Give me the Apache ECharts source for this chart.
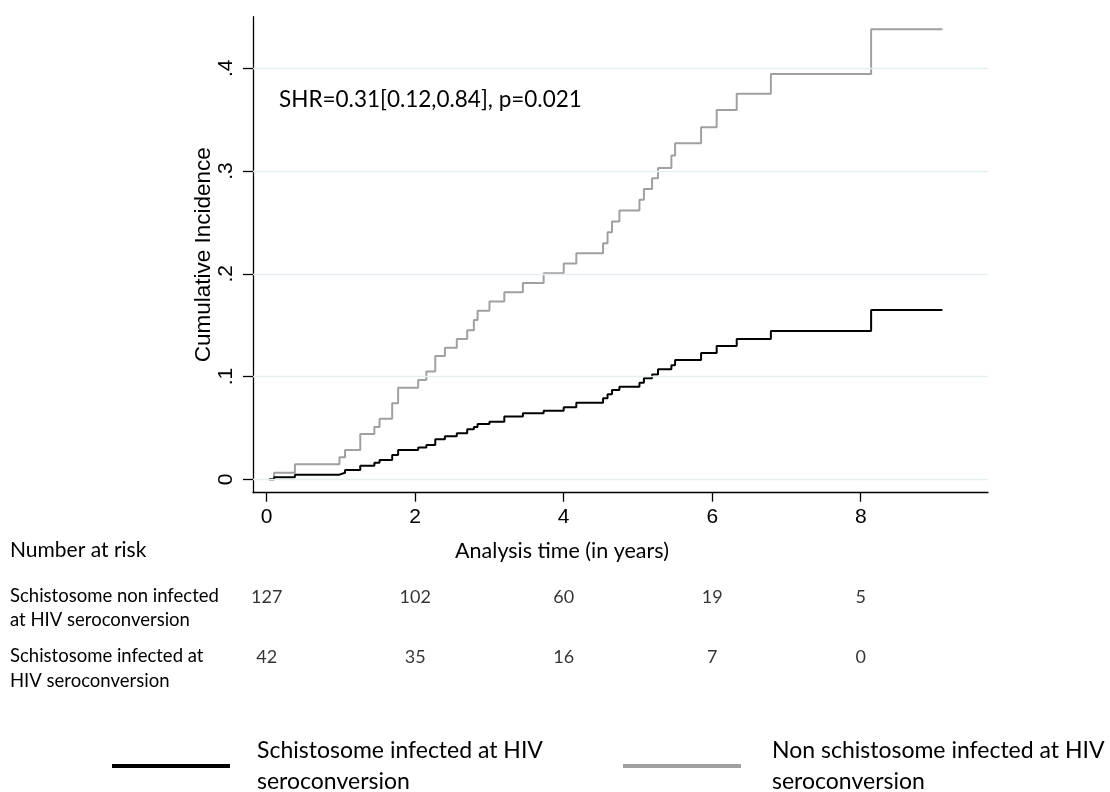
<!DOCTYPE html>
<html><head><meta charset="utf-8">
<script src="https://cdn.jsdelivr.net/npm/echarts@6/dist/echarts.min.js"></script>
<style>html,body{margin:0;padding:0;background:#fff}#c{width:1110px;height:792px}</style>
</head><body><div id="c"></div>
<script>
// Event times (years) shared by both predicted cumulative incidence curves
const times = [0.03,0.10,0.38,0.98,1.055,1.26,1.45,1.52,1.69,1.77,2.04,2.15,2.27,2.40,2.56,2.70,2.79,2.84,3.00,3.20,3.45,3.73,4.00,4.17,4.53,4.59,4.65,4.75,5.02,5.08,5.19,5.27,5.45,5.50,5.85,6.06,6.33,6.79,8.14];
const nonInfected = [0,0.0064,0.0146,0.0214,0.0285,0.044,0.051,0.059,0.074,0.089,0.0966,0.105,0.120,0.128,0.1365,0.145,0.155,0.164,0.173,0.182,0.191,0.2005,0.210,0.220,0.2297,0.2404,0.251,0.2617,0.272,0.2825,0.293,0.303,0.315,0.327,0.3426,0.3594,0.3753,0.3945,0.438];
const infected = [0,0.002,0.0045,0.0064,0.009,0.0133,0.016,0.0188,0.0237,0.0285,0.031,0.0334,0.039,0.042,0.0448,0.0487,0.051,0.0538,0.056,0.061,0.0642,0.0668,0.070,0.0745,0.0788,0.0827,0.0869,0.090,0.094,0.0983,0.102,0.107,0.111,0.116,0.123,0.1297,0.1365,0.1443,0.1648];
const endTime = 9.10;
const xTicks = [0,2,4,6,8];
const yTicks = [0,0.1,0.2,0.3,0.4];
const yTickLabels = ['0','.1','.2','.3','.4'];
const riskTimes = [0,2,4,6,8];
const riskNonInfected = [127,102,60,19,5];
const riskInfected = [42,35,16,7,0];
const nameInfected = 'Schistosome infected at HIV seroconversion';
const nameNonInfected = 'Non schistosome infected at HIV seroconversion';
const riskRows = ['Schistosome non infected\nat HIV seroconversion','Schistosome infected at\nHIV seroconversion'];

function steps(vals){
  const d = times.map((t,i)=>[t, vals[i]]);
  d.push([endTime, vals[vals.length-1]]);
  return d;
}
const riskData = [];
riskTimes.forEach((t,i)=>{ riskData.push([t,0,riskNonInfected[i]]); riskData.push([t,1,riskInfected[i]]); });

const TXT = 'Lato';
const X_MIN = -0.1845, X_MAX = 9.714, Y_MIN = -0.01304, Y_MAX = 0.4502;

const chart = echarts.init(document.getElementById('c'), null, {renderer:'canvas'});
chart.setOption({
  animation:false,
  backgroundColor:'#fff',
  grid:[
    {left:253, right:122, top:16.7, height:476},
    {left:253, right:122, top:566.7, height:120}
  ],
  xAxis:[
    {type:'value', gridIndex:0, min:X_MIN, max:X_MAX,
     axisLine:{show:true, onZero:false, lineStyle:{color:'#000', width:1.3}},
     axisTick:{show:true, length:9, customValues:xTicks, lineStyle:{color:'#000', width:1.3}},
     axisLabel:{customValues:xTicks, margin:14, color:'#000', fontFamily:'Liberation Sans', fontSize:21},
     splitLine:{show:false}
    },
    {type:'value', gridIndex:1, min:X_MIN, max:X_MAX, show:false}
  ],
  yAxis:[
    {type:'value', gridIndex:0, min:Y_MIN, max:Y_MAX,
     axisLine:{show:true, onZero:false, lineStyle:{color:'#000', width:1.3}},
     axisTick:{show:true, length:10, customValues:yTicks, lineStyle:{color:'#000', width:1.3}},
     axisLabel:{customValues:yTicks, rotate:90, margin:16, color:'#000', fontFamily:'Liberation Sans', fontSize:21,
       formatter:function(v){ const i = yTicks.findIndex(t=>Math.abs(t-v)<1e-9); return i>=0 ? yTickLabels[i] : ''; }},
     splitLine:{show:false},
     name:'Cumulative Incidence', nameLocation:'middle', nameRotate:90, nameGap:38, nameMoveOverlap:false,
     nameTextStyle:{color:'#000', fontFamily:'Liberation Sans', fontSize:22.5}
    },
    {type:'category', gridIndex:1, data:[0,1], inverse:true, show:false}
  ],
  legend:[
    {left:107, top:730, icon:'rect', itemWidth:118, itemHeight:4, data:[nameInfected],
     formatter:n=>n.replace(' seroconversion','\nseroconversion'),
     textStyle:{color:'#000', fontFamily:TXT, fontSize:23, lineHeight:31, padding:[0,0,0,22]}},
    {left:618, top:730, icon:'rect', itemWidth:118, itemHeight:4, data:[nameNonInfected],
     formatter:n=>n.replace(' seroconversion','\nseroconversion'),
     textStyle:{color:'#000', fontFamily:TXT, fontSize:23, lineHeight:31, padding:[0,0,0,26]}}
  ],
  graphic:[
    {type:'text', x:279, y:100, style:{text:'SHR=0.31[0.12,0.84], p=0.021', fill:'#000', font:'22.5px Lato', verticalAlign:'middle'}},
    {type:'text', x:10, y:550, style:{text:'Number at risk', fill:'#000', font:'21px Lato', verticalAlign:'middle'}},
    {type:'text', x:562, y:551, style:{text:'Analysis time (in years)', fill:'#000', font:'21.5px Lato', align:'center', verticalAlign:'middle'}},
    {type:'text', x:10, y:608.5, style:{text:riskRows[0], fill:'#000', font:'18.5px Lato', lineHeight:24, verticalAlign:'middle'}},
    {type:'text', x:10, y:669, style:{text:riskRows[1], fill:'#000', font:'18.5px Lato', lineHeight:25, verticalAlign:'middle'}}
  ],
  series:[
    {type:'line', name:'grid', xAxisIndex:0, yAxisIndex:0, data:steps(nonInfected), showSymbol:false, silent:true,
     lineStyle:{opacity:0}, z:1,
     markLine:{silent:true, symbol:'none', label:{show:false}, animation:false,
       lineStyle:{color:'#e6eef2', width:1.3, type:'solid'},
       data:yTicks.map(v=>({yAxis:v}))}},
    {type:'line', name:nameNonInfected, xAxisIndex:0, yAxisIndex:0, data:steps(nonInfected), step:'end',
     showSymbol:false, color:'#a0a0a0', lineStyle:{color:'#a0a0a0', width:2}, z:3},
    {type:'line', name:nameInfected, xAxisIndex:0, yAxisIndex:0, data:steps(infected), step:'end',
     showSymbol:false, color:'#000', lineStyle:{color:'#000', width:2}, z:4},
    {type:'scatter', xAxisIndex:1, yAxisIndex:1, data:riskData, symbolSize:0, silent:true,
     encode:{x:0,y:1},
     label:{show:true, position:'inside', formatter:p=>String(p.value[2]), color:'#000', fontFamily:TXT, fontSize:18}}
  ]
});
</script></body></html>
